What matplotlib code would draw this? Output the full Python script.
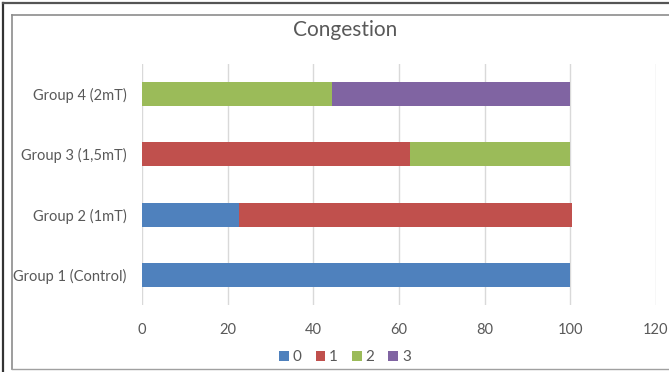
import matplotlib
matplotlib.use("Agg")
import matplotlib.pyplot as plt
from matplotlib.lines import Line2D
from matplotlib.patches import Patch

plt.rcParams['font.family'] = ['Lato', 'DejaVu Sans']

groups = ["Group 1 (Control)", "Group 2 (1mT)", "Group 3 (1,5mT)", "Group 4 (2mT)"]
series_names = ["0", "1", "2", "3"]
score_0 = [100, 22.7, 0, 0]
score_1 = [0, 77.8, 62.5, 0]
score_2 = [0, 0, 37.5, 44.4]
score_3 = [0, 0, 0, 55.6]
colors = ["#4F81BD", "#C0504D", "#9BBB59", "#8064A2"]
xticks = [0, 20, 40, 60, 80, 100, 120]

W, H = 669, 372
fig = plt.figure(figsize=(W / 100, H / 100), dpi=100)
ax = fig.add_axes([142 / W, 1 - 305 / H, (656 - 142) / W, (305 - 64) / H])

left = [0.0] * len(groups)
for vals, col in zip([score_0, score_1, score_2, score_3], colors):
    ax.barh(range(len(groups)), vals, left=left, height=0.4, color=col, zorder=3)
    left = [a + b for a, b in zip(left, vals)]

ax.set_xlim(0, 120)
ax.set_ylim(-0.5, len(groups) - 0.5)
ax.set_xticks(xticks)
ax.set_xticklabels([str(t) for t in xticks])
ax.set_yticks(range(len(groups)))
ax.set_yticklabels(groups)
ax.grid(axis="x", color="#D9D9D9", linewidth=1.0, zorder=0)
for s in ax.spines.values():
    s.set_visible(False)
ax.tick_params(axis="both", length=0, colors="#595959", labelsize=10.5)
ax.tick_params(axis="x", pad=13)
ax.tick_params(axis="y", pad=11)

fig.text(345 / W, 1 - 30 / H, "Congestion", ha="center", va="center",
         fontsize=15, color="#595959")

handles = [Patch(facecolor=c, edgecolor="none") for c in colors]
fig.legend(handles, series_names, loc="center", bbox_to_anchor=(345 / W, 1 - 357 / H),
           ncol=4, frameon=False, fontsize=11, handlelength=0.65, handleheight=0.65,
           handletextpad=0.25, columnspacing=0.9, labelcolor="#595959")

# chart frames
fig.add_artist(Line2D([12 / W, 12 / W], [1 - 15 / H, 1 - 369 / H], transform=fig.transFigure,
                      color="#8C8C8C", linewidth=1.2))
fig.add_artist(Line2D([12 / W, 1], [1 - 15 / H, 1 - 15 / H], transform=fig.transFigure,
                      color="#8C8C8C", linewidth=1.2))
fig.add_artist(Line2D([12 / W, 1], [1 - 369 / H, 1 - 369 / H], transform=fig.transFigure,
                      color="#A0A0A0", linewidth=1.0))
fig.add_artist(Line2D([3 / W, 3 / W], [0, 1 - 3 / H], transform=fig.transFigure,
                      color="#333333", linewidth=1.6))
fig.add_artist(Line2D([3 / W, 1], [1 - 3 / H, 1 - 3 / H], transform=fig.transFigure,
                      color="#555555", linewidth=1.6))

fig.savefig("out.png", dpi=100)
